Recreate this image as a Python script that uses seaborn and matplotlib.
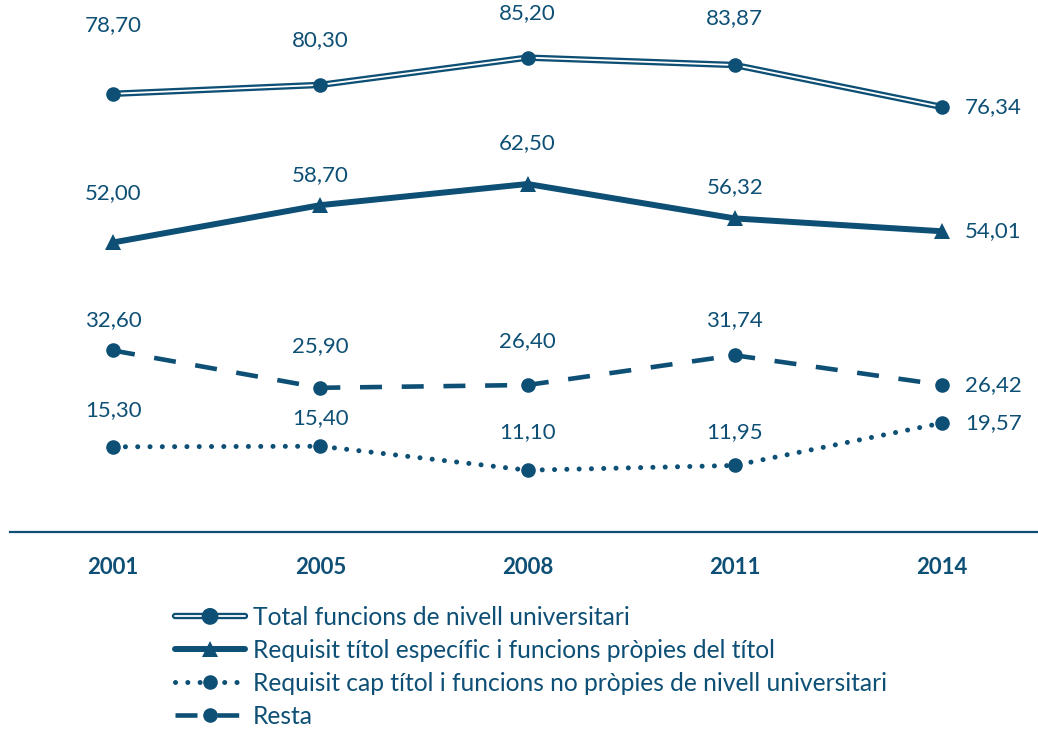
import numpy as np
import matplotlib
matplotlib.use("Agg")
import matplotlib.pyplot as plt
import matplotlib.patheffects as pe
import seaborn as sns
from matplotlib.lines import Line2D

sns.set_theme(style="white")
plt.rcParams['font.family'] = ['Lato', 'DejaVu Sans']

years = ["2001", "2005", "2008", "2011", "2014"]
total = [78.70, 80.30, 85.20, 83.87, 76.34]
especific = [52.00, 58.70, 62.50, 56.32, 54.01]
cap_titol = [15.30, 15.40, 11.10, 11.95, 19.57]
resta = [32.60, 25.90, 26.40, 31.74, 26.42]

names = ["Total funcions de nivell universitari",
         "Requisit títol específic i funcions pròpies del títol",
         "Requisit cap títol i funcions no pròpies de nivell universitari",
         "Resta"]

# label vertical offsets (pixels) for the first four points of each series
off_total = [69, 45, 45, 47]
off_esp = [49, 30, 41, 31]
off_cap = [37, 28, 38, 33]
off_resta = [30, 42, 44, 35]

C = "#0d4f75"
W, H = 1038, 729
fig = plt.figure(figsize=(W / 100, H / 100), dpi=100)
ax = fig.add_axes([9.5 / W, (H - 532) / H, 1036 / W, 532 / H])
x = np.arange(len(years))

double = [pe.Stroke(linewidth=4.6, foreground=C), pe.Normal()]

# Total (double line)
sns.lineplot(x=x, y=total, ax=ax, color="white", lw=1.3, zorder=3,
             path_effects=double)
sns.lineplot(x=x, y=total, ax=ax, color=C, lw=0, marker="o", markersize=10.5,
             markeredgewidth=0, zorder=5)

# Requisit títol específic
sns.lineplot(x=x, y=especific, ax=ax, color=C, lw=4.3, marker="^", markersize=11,
             markeredgewidth=0, zorder=3)

# Requisit cap títol (dotted)
sns.lineplot(x=x, y=cap_titol, ax=ax, color=C, lw=3.6, linestyle=(0, (0.01, 2.45)),
             dash_capstyle='round', zorder=3)
sns.lineplot(x=x, y=cap_titol, ax=ax, color=C, lw=0, marker="o", markersize=10.5,
             markeredgewidth=0, zorder=5)

# Resta (dashed)
sns.lineplot(x=x, y=resta, ax=ax, color=C, lw=3.3, linestyle=(0, (4.8, 4.3)),
             marker="o", markersize=10.5, markeredgewidth=0, zorder=3)

ax.set_xlim(-0.5, 4.5)
ax.set_ylim(0, 532 / 5.568)

for vals, offs in [(total, off_total), (especific, off_esp), (cap_titol, off_cap), (resta, off_resta)]:
    for i, v in enumerate(vals):
        lab = f"{v:.2f}".replace(".", ",")
        if i < len(vals) - 1:
            ax.annotate(lab, (x[i], v), xytext=(0, offs[i]), textcoords='offset pixels',
                        ha='center', va='center', color=C, fontsize=16, annotation_clip=False)
        else:
            ax.annotate(lab, (x[i], v), xytext=(23, 0), textcoords='offset pixels',
                        ha='left', va='center', color=C, fontsize=16, annotation_clip=False)

for s in ["top", "right", "left"]:
    ax.spines[s].set_visible(False)
ax.spines["bottom"].set_color(C)
ax.spines["bottom"].set_linewidth(1.6)
ax.set_yticks([])
ax.set_xticks(x)
ax.set_xticklabels(years, fontsize=16, fontweight='bold', color=C)
ax.tick_params(axis='x', length=0, pad=18)
ax.set_xlabel("")
ax.grid(False)

h_total = Line2D([], [], color="white", lw=1.3, marker="o", markersize=7.5,
                 markerfacecolor=C, markeredgecolor=C, markeredgewidth=0,
                 path_effects=double)
h_esp = Line2D([], [], color=C, lw=4.3, marker="^", markersize=11, markeredgewidth=0)
h_cap = Line2D([], [], color=C, lw=3.6, linestyle=(0, (0.01, 2.45)), dash_capstyle='round',
               marker="o", markersize=10.5, markeredgewidth=0)
h_resta = Line2D([], [], color=C, lw=3.3, linestyle=(0, (4.8, 4.3)), marker="o",
                 markersize=10.5, markeredgewidth=0)

leg = fig.legend([h_total, h_esp, h_cap, h_resta], names,
                 loc='upper left', bbox_to_anchor=(175 / W, 1 - 606 / H),
                 frameon=False, fontsize=17.7, handlelength=2.85, handletextpad=0.33,
                 labelspacing=0.4, borderpad=0, borderaxespad=0)
for t in leg.get_texts():
    t.set_color(C)

fig.savefig("out.png", dpi=100)
